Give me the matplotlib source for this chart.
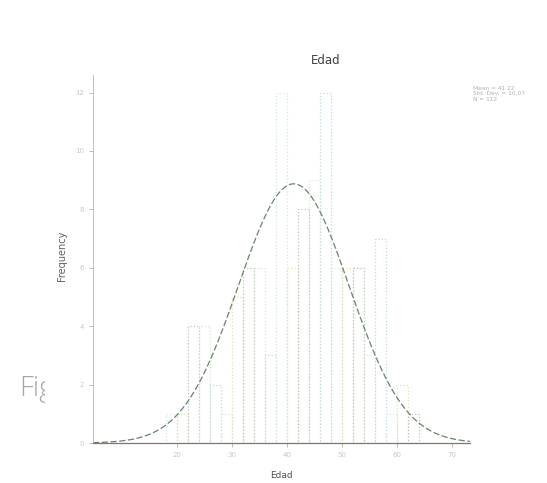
import numpy as np
import matplotlib
matplotlib.use("Agg")
import matplotlib.pyplot as plt
from matplotlib.patches import Rectangle

# Data
bin_edges = [18, 20, 22, 24, 26, 28, 30, 32, 34, 36, 38, 40, 42, 44, 46, 48, 50, 52, 54, 56, 58, 60, 62, 64]
counts = [1, 1, 4, 4, 2, 1, 5, 6, 6, 3, 12, 6, 8, 9, 12, 6, 6, 6, 3, 7, 1, 2, 1]
mean_val = 41.22
sd_val = 10.07
n_val = 112
title = "Edad"
xlabel = "Edad"
ylabel = "Frequency"
xticks = [20, 30, 40, 50, 60, 70]
yticks = [0, 2, 4, 6, 8, 10, 12]

W, H = 547, 483
fig = plt.figure(figsize=(W / 100, H / 100), dpi=100)
ax_l, ax_r, ax_t, ax_b = 93, 470, 75, 443
ax = fig.add_axes([ax_l / W, 1 - ax_b / H, (ax_r - ax_l) / W, (ax_b - ax_t) / H])

lefts = np.array(bin_edges[:-1])
widths = np.diff(bin_edges)
edgecols = ['#cfe6ea', '#e6e2b0', '#b8c7b8', '#d8e8d0', '#c0d8e0']
for i, (l, w, c) in enumerate(zip(lefts, widths, counts)):
    ax.bar(l, c, width=w, align='edge', facecolor='none',
           edgecolor=edgecols[i % len(edgecols)], linewidth=0.9, linestyle=':')

# normal curve
bw = widths[0]
xmin, xmax = 4.7, 73.3
xs = np.linspace(xmin, xmax, 400)
ys = n_val * bw / (sd_val * np.sqrt(2 * np.pi)) * np.exp(-0.5 * ((xs - mean_val) / sd_val) ** 2)
ax.plot(xs, ys, color='#6a836a', linewidth=0.9, linestyle=(0, (5, 2)))

ax.set_xlim(xmin, xmax)
ax.set_ylim(0, 12.6)
ax.set_xticks(xticks)
ax.set_yticks(yticks)
ax.set_xticklabels([str(v) for v in xticks], fontsize=5, color='#c8c8c8')
ax.set_yticklabels([str(v) for v in yticks], fontsize=5, color='#c8c8c8')
ax.tick_params(length=3, width=0.6, colors='#b0b0b0', labelcolor='#c8c8c8')
for s in ['top', 'right']:
    ax.spines[s].set_visible(False)
ax.spines['left'].set_color('#c0c0c0')
ax.spines['left'].set_linewidth(0.7)
ax.spines['bottom'].set_color('#8a7070')
ax.spines['bottom'].set_linewidth(0.9)

fig.text(326 / W, 1 - 61 / H, title, ha='center', va='center', fontsize=8.5, color='#404040')
fig.text(281 / W, 1 - 476 / H, xlabel, ha='center', va='center', fontsize=6.5, color='#505050')
fig.text(62 / W, 1 - 256 / H, ylabel, ha='center', va='center', rotation=90, fontsize=7, color='#606060')
fig.text(473 / W, 1 - 86 / H, f"Mean = {mean_val}\nStd. Dev. = {sd_val}\nN = {n_val}",
         ha='left', va='top', fontsize=4.2, color='#b0b0b0', linespacing=1.1)

fig.text(19 / W, 1 - 389 / H, "Fig", ha='left', va='center', fontsize=20,
         color='#a8a8a8', family=['Open Sans', 'DejaVu Sans'], fontweight='light')
fig.patches.append(Rectangle((45 / W, 1 - 412 / H), 15 / W, 50 / H, transform=fig.transFigure,
                             facecolor='white', edgecolor='none', zorder=5))

fig.savefig("out.png", dpi=100, facecolor='white')
